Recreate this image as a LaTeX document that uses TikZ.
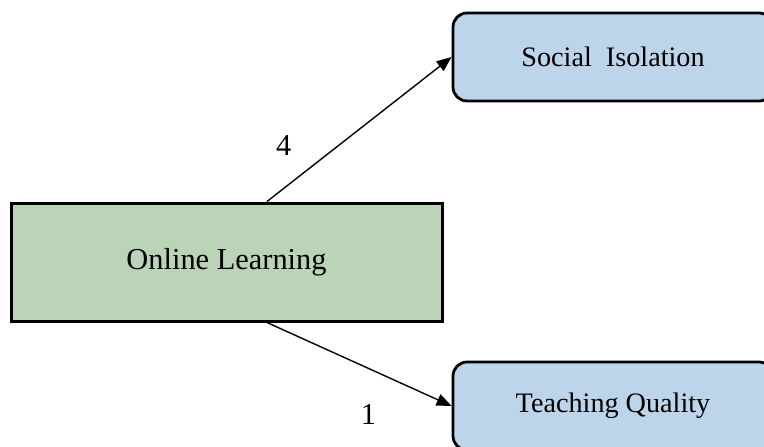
\documentclass[tikz,border=0pt]{standalone}
\usepackage{fontspec}
\setmainfont{Liberation Serif}
\usepackage{xcolor}
\usetikzlibrary{arrows.meta}
\usetikzlibrary{positioning}
\definecolor{olgreen}{HTML}{BBD3B6}
\definecolor{outblue}{HTML}{BDD5EB}
\tikzset{
  cause/.style={draw, line width=1.5pt, fill=olgreen, minimum width=215.5pt, minimum height=59pt, font=\fontsize{15.2}{18}\selectfont},
  effect/.style={draw, line width=1.4pt, rounded corners=7pt, fill=outblue, minimum width=160pt, minimum height=44pt, font=\fontsize{14.1}{17}\selectfont},
  link/.style={-{Triangle[length=7.5pt,width=6pt]}, line width=0.7pt},
  weight/.style={font=\fontsize{15.2}{18}\selectfont}
}
\begin{document}
\begin{tikzpicture}[x=0.5pt,y=-0.5pt]
\useasboundingbox (0,0) rectangle (764,446);
\node[cause] (online) at (226.5,262) {\raisebox{-1.5pt}{Online Learning}};
\node[effect] (social) at (613,57) {Social\ \ Isolation};
\node[effect] (teach) at (613,406) {Teaching Quality};
\draw[link] ([xshift=20.25pt]online.north) -- node[weight, pos=0.09, above=13pt]{4} (social.west);
\draw[link] ([xshift=20.25pt]online.south) -- node[weight, pos=0.55, below=14.5pt]{1} (teach.west);
\end{tikzpicture}
\end{document}
